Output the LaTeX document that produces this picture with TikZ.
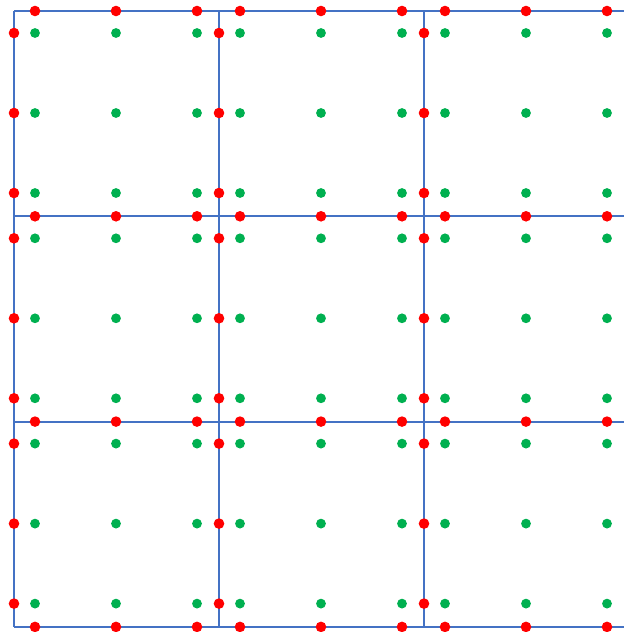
\documentclass[tikz,border=0pt]{standalone}
\usepackage{tikz}
\definecolor{gridblue}{RGB}{68,114,196}
\definecolor{ptgreen}{RGB}{0,176,80}
\begin{document}
\begin{tikzpicture}[x=1pt, y=-1pt,
    gridline/.style={gridblue, line width=2pt},
    edgedot/.style={fill=red},
    celldot/.style={fill=ptgreen}]
  \useasboundingbox (0,0) rectangle (624,632);
  % Cell borders
  \foreach \c in {0,1,2}
    \draw[gridline] (14+205*\c,11) -- (14+205*\c,627);
  \foreach \r in {0,1,2,3}
    \draw[gridline] (14,11+205.3*\r) -- (624,11+205.3*\r);

  % Points on the horizontal borders
  \foreach \r in {0,1,2,3}
    \foreach \c in {0,1,2}
      \foreach \k in {21,102,183}
        \fill[edgedot] (14+205*\c+\k,11+205.3*\r) circle (5.3);
  % Points on the vertical borders
  \foreach \c in {0,1,2}
    \foreach \r in {0,1,2}
      \foreach \k in {22,102,182}
        \fill[edgedot] (14+205*\c,11+205.3*\r+\k) circle (5.3);

  % Points inside the cells
  \foreach \c in {0,1,2}
    \foreach \r in {0,1,2}
      \foreach \i in {21,102,183}
        \foreach \j in {22,102,182}
          \fill[celldot] (14+205*\c+\i,11+205.3*\r+\j) circle (4.9);
\end{tikzpicture}
\end{document}
